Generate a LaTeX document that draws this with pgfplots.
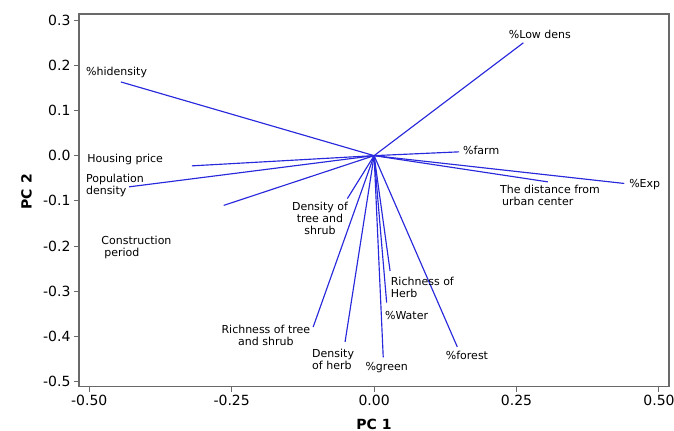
\documentclass[border=0pt]{standalone}
\usepackage{fontspec}
\setmainfont{DejaVu Sans}
\usepackage{pgfplots}
\pgfplotsset{compat=1.18}
\definecolor{loadblue}{RGB}{40,40,220}
\definecolor{framegray}{RGB}{105,105,105}

\begin{document}
\begin{tikzpicture}[
  lbl/.style={font=\fontsize{11bp}{12bp}\selectfont, inner sep=0pt},
  vec/.style={loadblue, line width=1.15bp},
]
\path[use as bounding box] (0,0) rectangle (674bp,431bp);
\begin{axis}[
  at={(79bp,44.3bp)}, anchor=south west,
  scale only axis, width=590bp, height=372.7bp,
  xmin=-0.518, xmax=0.5176, ymin=-0.511, ymax=0.3133,
  xtick={-0.5,-0.25,0,0.25,0.5},
  xticklabels={-0.50,-0.25,0.00,0.25,0.50},
  ytick={-0.5,-0.4,-0.3,-0.2,-0.1,0,0.1,0.2,0.3},
  yticklabels={-0.5,-0.4,-0.3,-0.2,-0.1,0.0,0.1,0.2,0.3},
  tick align=outside, major tick length=5bp,
  tick pos=left,
  axis line style={framegray, line width=1.2bp},
  tick style={framegray, line width=1bp},
  ticklabel style={font=\fontsize{14bp}{16bp}\selectfont},
  xlabel={PC 1}, ylabel={PC 2},
  label style={font=\fontsize{14bp}{16bp}\selectfont\bfseries, inner sep=0pt},
  xlabel style={at={(axis description cs:0.5,-0.1135)}, anchor=base},
  ylabel style={at={(axis description cs:-0.0802,0.523)}, anchor=base},
  clip=false,
]
% loading vectors, drawn from the origin
\addplot[vec] coordinates {(0,0) (-0.4445,0.163)};  % %hidensity
\addplot[vec] coordinates {(0,0) (-0.320,-0.0226)}; % housing price
\addplot[vec] coordinates {(0,0) (-0.430,-0.069)};  % population density
\addplot[vec] coordinates {(0,0) (-0.264,-0.110)};  % construction period
\addplot[vec] coordinates {(0,0) (0.262,0.2496)};   % %low dens
\addplot[vec] coordinates {(0,0) (0.149,0.0084)};   % %farm
\addplot[vec] coordinates {(0,0) (0.439,-0.0615)};  % %exp
\addplot[vec] coordinates {(0,0) (0.305,-0.058)};   % distance from center
\addplot[vec] coordinates {(0,0) (-0.047,-0.095)};  % density of tree and shrub
\addplot[vec] coordinates {(0,0) (-0.107,-0.379)};  % richness of tree and shrub
\addplot[vec] coordinates {(0,0) (-0.051,-0.412)};  % density of herb
\addplot[vec] coordinates {(0,0) (0.016,-0.446)};   % %green
\addplot[vec] coordinates {(0,0) (0.022,-0.325)};   % %water
\addplot[vec] coordinates {(0,0) (0.028,-0.255)};   % richness of herb
\addplot[vec] coordinates {(0,0) (0.146,-0.423)};   % %forest

% variable names
\node[lbl] at (axis cs:-0.452,0.183) {\%hidensity};
\node[lbl] at (axis cs:-0.437,-0.009) {Housing price};
\node[lbl, anchor=west, align=left] at (axis cs:-0.506,-0.065) {Population\\density};
\node[lbl, anchor=west, align=left] at (axis cs:-0.479,-0.202) {Construction\\\hspace*{3bp}period};
\node[lbl, align=center] at (axis cs:-0.095,-0.138) {Density of\\tree and\\shrub};
\node[lbl, align=center] at (axis cs:-0.190,-0.397) {Richness of tree\\and shrub};
\node[lbl, anchor=west, align=left] at (axis cs:-0.109,-0.451) {Density\\of herb};
\node[lbl] at (axis cs:0.022,-0.469) {\%green};
\node[lbl] at (axis cs:0.057,-0.353) {\%Water};
\node[lbl, anchor=west, align=left] at (axis cs:0.029,-0.291) {Richness of\\Herb};
\node[lbl] at (axis cs:0.163,-0.442) {\%forest};
\node[lbl] at (axis cs:0.291,0.268) {\%Low dens};
\node[lbl] at (axis cs:0.188,0.012) {\%farm};
\node[lbl] at (axis cs:0.475,-0.063) {\%Exp};
\node[lbl, anchor=west, align=left] at (axis cs:0.221,-0.087) {The distance from\\\hspace*{2bp}urban center};
\end{axis}
\end{tikzpicture}
\end{document}
